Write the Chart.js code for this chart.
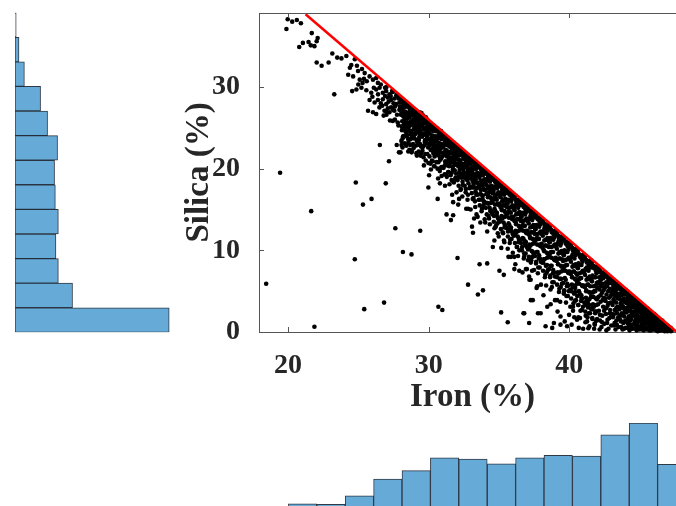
<!DOCTYPE html>
<html>
<head>
<meta charset="utf-8">
<script src="https://cdn.jsdelivr.net/npm/chart.js@4.4.1/dist/chart.umd.min.js"></script>
<style>
  html, body { margin: 0; padding: 0; background: #fff; }
  body { width: 676px; height: 506px; overflow: hidden; position: relative; }
  canvas { position: absolute; display: block; }
</style>
</head>
<body>
<canvas id="silicaHist" width="180" height="340" style="left:0;top:0"></canvas>
<canvas id="scatter" width="510" height="420" style="left:180px;top:0"></canvas>
<canvas id="ironHist" width="446" height="110" style="left:250px;top:410px"></canvas>
<script>
// marginal histogram of silica (bins of 3 %, bottom bin first)
const silicaBins = ['0-3', '3-6', '6-9', '9-12', '12-15', '15-18', '18-21', '21-24', '24-27', '27-30', '30-33', '33-36', '36-39'];
const silicaCounts = [772, 288, 217, 205, 217, 202, 198, 213, 163, 128, 47, 20, 6];

// marginal histogram of iron (bins of 2 %)
const ironBins = ['18-20', '20-22', '22-24', '24-26', '26-28', '28-30', '30-32', '32-34', '34-36', '36-38', '38-40', '40-42', '42-44', '44-46', '46-48'];
const ironCounts = [2, 21, 18, 60, 142, 183, 246, 240, 217, 246, 258, 255, 359, 417, 214];

const xTicks = [20, 30, 40];
const yTicks = [0, 10, 20, 30];

// upper limit line (red)
const limitLine = [[21.25, 38.9], [47.63, 0]];

// isolated samples [iron, silica]
const outlierPts = [
  [19.98,38.3],[19.89,37.1],[20.3,38.0],[20.63,38.2],[20.92,37.8],[21.69,36.6],[22.11,36.0],[22.04,35.6],
  [21.46,35.5],[21.06,35.4],[20.8,34.9],[21.62,35.1],[21.88,35.0],[23.15,34.1],[23.5,33.6],[23.8,33.5],
  [24.15,33.8],[22.04,33.0],[22.39,32.6],[22.89,33.0],[23.29,29.1],[19.44,19.5],[21.65,14.8],[18.45,5.9],
  [21.88,0.65],[24.82,18.3],[26.95,18.2],[25.33,15.6],[25.94,16.3],[24.75,8.9],[25.42,2.8],[26.83,3.6],
  [27.63,12.7],[28.17,9.8],[28.78,9.5],[26.53,22.9],[27.18,20.9],[27.73,22.9],[27.89,22.0],[28.8,22.2],
  [28.1,24.7],[28.0,22.0],[30.03,19.2],[29.98,17.7],[30.64,16.3],[30.8,18.2],[31.27,14.4],[31.58,13.7],
  [31.74,14.3],[31.74,15.9],[32.1,15.6],[29.4,12.4],[32.05,9.07],[32.8,15.1],[33.4,14.4],[33.08,12.9],
  [33.15,12.15],[34.02,13.4],[33.62,8.3],[34.16,8.4],[32.8,5.8],[33.5,4.6],[33.86,5.1],[30.69,3.1],
  [30.97,2.7],[34.56,10.4],[35.03,7.5],[35.34,7.0],[35.15,2.4],[35.62,1.2],[36.09,7.7],[36.44,7.5],
  [36.91,7.7],[37.14,6.8],[37.26,3.9],[37.4,3.9],[36.79,2.3],[37.14,1.1],[35.85,9.2],[36.09,9.2],
  [35.62,10.2],[35.38,11.0],[34.91,12.1],[34.68,12.7],[36.79,9.2],[37.07,8.8],[36.91,11.0],[36.44,10.0],
  [36.74,2.3],[37.77,2.3],[38.31,0.7],[38.78,0.5],[39.37,0.9],[37.96,2.3],[38.43,3.1],[38.9,1.1],
  [39.37,1.9],[39.84,0.7],[39.13,3.9],[40.07,3.1],[40.54,1.5],[37.72,5.6],[38.66,5.2],[39.6,4.7],
  [37.49,7.6],[37.25,6.4]
];

// dense band right under the limit line [iron, silica]
const bandPts = [
  [24.75,33.4],[24.4,32.35],[24.28,31.5],[24.63,31.3],[24.98,31.95],[25.26,32.2],[25.45,31.7],[25.1,30.9],
  [25.4,31.0],[25.8,31.3],[26.04,30.9],[26.27,31.1],[26.39,30.5],[24.56,29.5],[24.86,29.7],[25.22,29.9],
  [25.57,29.6],[25.92,29.3],[26.27,29.7],[26.51,29.9],[26.74,29.3],[26.98,29.5],[27.21,29.1],[26.16,28.1],
  [26.39,28.4],[25.69,27.1],[26.04,26.9],[26.27,26.7],[26.74,28.5],[27.09,28.7],[27.33,28.4],[27.56,28.6],
  [26.98,27.9],[27.33,27.5],[27.68,27.9],[27.92,28.1],[26.86,27.1],[27.21,26.9],[27.56,27.1],[27.92,27.2],
  [27.0,30.0],[27.4,29.5],[27.7,29.0],[27.5,28.0],[27.85,28.6],[26.6,30.3],[26.9,29.9],[27.15,28.2],
  [27.45,27.2],[27.75,26.6],[27.95,27.6],[26.5,27.5],[27.0,26.6],[27.6,26.0],[27.25,25.9],[27.85,25.3],
  [27.1,27.4],[26.8,26.5],[27.45,29.4],[27.8,28.9],[27.45,25.85],[27.8,25.65],
  [24.5,32.7],[24.9,32.6],[25.3,30.5],[25.6,30.7],[25.0,30.3],[26.1,29.9],[26.4,29.1],[25.8,28.4],
  [26.6,28.0],[26.0,28.8],[26.9,28.9],[27.3,28.9],[27.6,27.6],[27.0,27.0],[26.7,27.7],
  [28.27,25.65],[28.62,25.4],[28.97,25.65],[29.09,25.0],[28.74,24.6],[28.39,24.6],[28.15,23.7],[28.55,23.6],
  [28.93,23.9],[28.69,22.9],[29.16,23.4],
  [28.02,28.5],[28.05,27.6],[28.08,26.9],[28.1,28.1],[28.12,25.8],[28.15,27.3],[28.18,28.3],[28.2,26.4],
  [28.22,24.9],[28.25,27.8],[28.28,26.0],[28.3,28.1],[28.33,27.0],[28.36,25.3],[28.38,27.6],[28.4,26.6],
  [28.42,24.3],[28.45,27.9],[28.47,26.1],[28.49,25.6],
  [28.52,27.8],[28.54,26.8],[28.57,25.0],[28.6,27.5],[28.62,26.3],[28.65,27.1],[28.68,24.6],[28.7,27.6],
  [28.72,25.8],[28.75,26.9],[28.78,27.3],[28.8,25.4],[28.83,26.5],[28.86,23.9],[28.88,27.2],[28.9,26.0],
  [28.93,24.8],[28.95,26.9],[28.97,25.5],[28.99,27.1],
  [29.02,27.0],[29.04,25.9],[29.07,26.6],[29.1,24.5],[29.12,27.1],[29.15,25.3],[29.18,26.2],[29.2,26.8],
  [29.22,23.6],[29.25,25.7],[29.28,26.7],[29.3,24.9],[29.33,26.3],[29.36,26.9],[29.38,25.1],[29.4,26.0],
  [29.43,24.2],[29.45,26.5],[29.47,25.5],[29.49,26.8],
  [29.52,26.4],[29.54,25.2],[29.57,26.0],[29.6,24.1],[29.62,26.5],[29.65,25.6],[29.68,24.8],[29.7,26.2],
  [29.72,23.3],[29.75,25.8],[29.78,25.0],[29.8,26.3],[29.83,24.4],[29.86,25.5],[29.88,26.0],[29.9,23.9],
  [29.93,25.2],[29.95,25.9],[29.97,24.6],[29.99,25.6],
  [30.02,25.7],[30.04,24.3],[30.07,25.3],[30.1,22.9],[30.12,25.6],[30.15,24.8],[30.18,23.7],[30.2,25.4],
  [30.22,24.1],[30.25,25.0],[30.28,22.2],[30.3,24.6],[30.33,25.3],[30.36,23.4],[30.38,24.9],[30.4,24.0],
  [30.43,25.0],[30.45,21.6],[30.47,23.8],[30.49,24.7],
  [30.52,25.0],[30.54,23.6],[30.57,24.6],[30.6,22.8],[30.62,24.9],[30.65,24.0],[30.68,21.9],[30.7,24.5],
  [30.72,23.2],[30.75,24.7],[30.78,23.8],[30.8,22.5],[30.83,24.3],[30.86,23.0],[30.88,24.6],[30.9,21.3],
  [30.93,23.6],[30.95,24.2],[30.97,22.6],[30.99,24.0],
  [31.02,24.2],[31.04,22.7],[31.07,23.7],[31.1,21.8],[31.12,24.0],[31.15,23.2],[31.18,20.9],[31.2,23.9],
  [31.22,22.3],[31.25,23.5],[31.28,21.5],[31.3,23.8],[31.33,22.9],[31.36,20.4],[31.38,23.3],[31.4,22.1],
  [31.43,23.6],[31.45,21.2],[31.47,22.7],[31.49,23.4],
  [31.52,23.5],[31.54,22.0],[31.57,23.1],[31.6,20.8],[31.62,23.3],[31.65,22.5],[31.68,21.4],[31.7,23.0],
  [31.72,19.9],[31.75,22.7],[31.78,21.8],[31.8,23.1],[31.83,20.5],[31.86,22.3],[31.88,22.8],[31.9,21.1],
  [31.93,22.6],[31.95,19.4],[31.97,22.0],[31.99,22.7],
  [32.02,22.8],[32.04,21.4],[32.07,22.4],[32.1,20.3],[32.12,22.6],[32.15,21.7],[32.18,19.6],[32.2,22.3],
  [32.22,21.0],[32.25,22.1],[32.28,20.7],[32.3,22.4],[32.33,18.9],[32.36,21.6],[32.38,22.0],[32.4,20.1],
  [32.43,21.8],[32.45,19.3],[32.47,21.2],[32.49,22.0],
  [32.52,22.0],[32.54,20.6],[32.57,21.6],[32.6,19.5],[32.62,21.9],[32.65,21.0],[32.68,18.7],[32.7,21.5],
  [32.72,20.2],[32.75,21.4],[32.78,19.9],[32.8,21.6],[32.83,18.2],[32.86,20.8],[32.88,21.2],[32.9,19.2],
  [32.93,20.9],[32.95,17.8],[32.97,20.5],[32.99,21.3],
  [33.02,21.3],[33.04,19.8],[33.07,20.9],[33.1,18.6],[33.12,21.1],[33.15,20.2],[33.18,17.9],[33.2,20.8],
  [33.22,19.3],[33.25,20.6],[33.28,18.9],[33.3,20.8],[33.33,17.2],[33.36,20.0],[33.38,20.4],[33.4,18.3],
  [33.43,20.1],[33.45,19.5],[33.47,16.8],[33.49,20.5],
  [33.52,20.5],[33.54,19.1],[33.57,20.2],[33.6,17.8],[33.62,20.4],[33.65,19.4],[33.68,16.9],[33.7,20.0],
  [33.72,18.5],[33.75,19.8],[33.78,18.1],[33.8,20.0],[33.83,16.3],[33.86,19.2],[33.88,19.7],[33.9,17.5],
  [33.93,19.4],[33.95,18.7],[33.97,15.9],[33.99,19.8],
  [34.02,19.8],[34.04,18.3],[34.07,19.4],[34.1,16.9],[34.12,19.6],[34.15,18.6],[34.18,15.8],[34.2,19.3],
  [34.22,17.6],[34.25,19.0],[34.28,17.1],[34.3,19.2],[34.33,15.2],[34.36,18.4],[34.38,18.9],[34.4,16.5],
  [34.43,18.6],[34.45,17.9],[34.47,14.6],[34.49,19.0],
  [34.52,19.1],[34.54,17.5],[34.57,18.7],[34.6,16.2],[34.62,18.9],[34.65,17.8],[34.68,15.1],[34.7,18.5],
  [34.72,16.8],[34.75,18.3],[34.78,16.4],[34.8,18.5],[34.83,14.3],[34.86,17.6],[34.88,18.1],[34.9,15.7],
  [34.93,17.8],[34.95,17.1],[34.97,13.8],[34.99,18.3],
  [35.02,18.3],[35.04,16.7],[35.07,17.9],[35.1,15.3],[35.12,18.1],[35.15,17.0],[35.18,14.2],[35.2,17.8],
  [35.22,16.0],[35.25,17.5],[35.28,15.5],[35.3,17.7],[35.33,13.4],[35.36,16.8],[35.38,17.3],[35.4,14.8],
  [35.43,17.0],[35.45,16.3],[35.47,12.9],[35.49,17.6],
  [35.52,17.6],[35.54,15.9],[35.57,17.2],[35.6,14.5],[35.62,17.4],[35.65,16.2],[35.68,13.3],[35.7,17.0],
  [35.72,15.2],[35.75,16.8],[35.78,14.7],[35.8,17.0],[35.83,12.6],[35.86,16.0],[35.88,16.6],[35.9,13.9],
  [35.93,16.3],[35.95,15.5],[35.97,12.0],[35.99,16.9],
  [36.02,16.8],[36.04,15.1],[36.07,16.4],[36.1,13.6],[36.12,16.6],[36.15,15.4],[36.18,12.4],[36.2,16.2],
  [36.22,14.4],[36.25,16.0],[36.28,13.8],[36.3,16.2],[36.33,11.7],[36.36,15.2],[36.38,15.8],[36.4,13.0],
  [36.43,15.5],[36.45,14.7],[36.47,11.2],[36.49,16.1],
  [36.52,16.1],[36.54,14.3],[36.57,15.7],[36.6,12.8],[36.62,15.9],[36.65,14.6],[36.68,11.5],[36.7,15.5],
  [36.72,13.6],[36.75,15.3],[36.78,13.0],[36.8,15.5],[36.83,10.8],[36.86,14.4],[36.88,15.0],[36.9,12.2],
  [36.93,14.7],[36.95,13.9],[36.97,10.4],[36.99,15.4],
  [37.02,15.4],[37.04,13.6],[37.07,15.0],[37.1,12.0],[37.12,15.2],[37.15,13.9],[37.18,10.7],[37.2,14.8],
  [37.22,12.8],[37.25,14.6],[37.28,12.2],[37.3,14.8],[37.33,9.9],[37.36,13.7],[37.38,14.3],[37.4,11.4],
  [37.43,14.0],[37.45,13.1],[37.47,9.5],[37.49,14.6],
  [37.52,14.6],[37.54,12.8],[37.57,14.2],[37.6,11.2],[37.62,14.4],[37.65,13.1],[37.68,9.8],[37.7,14.0],
  [37.72,12.0],[37.75,13.8],[37.78,11.4],[37.8,14.0],[37.83,9.0],[37.86,12.9],[37.88,13.5],[37.9,10.6],
  [37.93,13.2],[37.95,12.3],[37.97,8.6],[37.99,13.9],
  [38.02,13.9],[38.04,12.0],[38.07,13.5],[38.1,10.3],[38.12,13.7],[38.15,12.3],[38.18,8.9],[38.2,13.3],
  [38.22,11.2],[38.25,13.0],[38.28,10.6],[38.3,13.2],[38.33,8.1],[38.36,12.1],[38.38,12.7],[38.4,9.7],
  [38.43,12.4],[38.45,11.5],[38.47,7.6],[38.49,13.1],
  [38.52,13.1],[38.54,11.2],[38.57,12.7],[38.6,9.5],[38.62,12.9],[38.65,11.5],[38.68,8.1],[38.7,12.5],
  [38.72,10.4],[38.75,12.2],[38.78,9.8],[38.8,12.4],[38.83,7.2],[38.86,11.3],[38.88,11.9],[38.9,8.9],
  [38.93,11.6],[38.95,10.7],[38.97,6.8],[38.99,12.4],
  [39.02,12.4],[39.04,10.5],[39.07,12.0],[39.1,8.7],[39.12,12.2],[39.15,10.8],[39.18,7.3],[39.2,11.8],
  [39.22,9.6],[39.25,11.5],[39.28,9.0],[39.3,11.7],[39.33,6.5],[39.36,10.6],[39.38,11.2],[39.4,8.1],
  [39.43,10.9],[39.45,9.9],[39.47,5.9],[39.49,11.7],
  [39.52,11.7],[39.54,9.7],[39.57,11.3],[39.6,7.9],[39.62,11.5],[39.65,10.0],[39.68,6.6],[39.7,11.1],
  [39.72,8.8],[39.75,10.8],[39.78,8.2],[39.8,11.0],[39.83,5.6],[39.86,9.8],[39.88,10.5],[39.9,7.3],
  [39.93,10.1],[39.95,9.1],[39.97,5.0],[39.99,10.9],
  [40.02,10.9],[40.04,8.9],[40.07,10.5],[40.1,7.1],[40.12,10.7],[40.15,9.2],[40.18,5.8],[40.2,10.3],
  [40.22,8.0],[40.25,10.0],[40.28,7.4],[40.3,10.2],[40.33,4.7],[40.36,9.0],[40.38,9.7],[40.4,6.5],
  [40.43,9.4],[40.45,8.3],[40.47,3.9],[40.49,10.2],[40.26,2.6],[40.41,5.4],
  [40.52,10.2],[40.54,8.1],[40.57,9.8],[40.6,6.3],[40.62,10.0],[40.65,8.4],[40.68,5.0],[40.7,9.5],
  [40.72,7.2],[40.75,9.2],[40.78,6.6],[40.8,9.4],[40.83,3.8],[40.86,8.2],[40.88,8.9],[40.9,5.7],
  [40.93,8.6],[40.95,7.5],[40.97,3.1],[40.99,9.4],[40.64,1.8],[40.85,4.5],
  [41.02,9.5],[41.04,7.4],[41.07,9.1],[41.1,5.5],[41.12,9.3],[41.15,7.7],[41.18,4.2],[41.2,8.8],
  [41.22,6.4],[41.25,8.5],[41.28,5.8],[41.3,8.7],[41.33,3.0],[41.36,7.5],[41.38,8.2],[41.4,4.9],
  [41.43,7.9],[41.45,6.8],[41.47,2.3],[41.49,8.7],[41.14,1.2],[41.31,3.6],[41.42,0.7],
  [41.52,8.8],[41.54,6.6],[41.57,8.4],[41.6,4.8],[41.62,8.6],[41.65,6.9],[41.68,3.4],[41.7,8.1],
  [41.72,5.6],[41.75,7.8],[41.78,5.0],[41.8,8.0],[41.83,2.3],[41.86,6.7],[41.88,7.5],[41.9,4.1],
  [41.93,7.2],[41.95,6.0],[41.97,1.6],[41.99,8.0],[41.63,2.8],[41.81,0.9],[41.92,3.3],
  [42.02,8.0],[42.03,6.1],[42.05,7.4],[42.07,4.3],[42.09,7.9],[42.1,2.6],[42.12,6.7],[42.14,5.2],
  [42.16,7.6],[42.18,1.4],[42.2,6.3],[42.22,3.7],[42.24,7.3],[42.26,5.6],[42.28,0.6],[42.3,6.9],
  [42.32,4.8],[42.34,2.0],[42.36,7.2],[42.38,5.9],[42.4,3.1],[42.42,6.6],[42.44,4.2],[42.46,7.3],
  [42.48,1.0],[42.49,5.4],
  [42.52,7.3],[42.53,5.5],[42.55,6.8],[42.57,3.8],[42.59,7.1],[42.6,2.2],[42.62,6.1],[42.64,4.6],
  [42.66,6.9],[42.68,1.1],[42.7,5.8],[42.72,3.2],[42.74,6.6],[42.76,5.0],[42.78,0.4],[42.8,6.3],
  [42.82,4.2],[42.84,1.7],[42.86,6.5],[42.88,5.3],[42.9,2.7],[42.92,6.0],[42.94,3.6],[42.96,6.6],
  [42.98,0.8],[42.99,4.8],
  [43.02,6.5],[43.03,4.9],[43.05,6.1],[43.07,3.3],[43.09,6.4],[43.1,1.8],[43.12,5.4],[43.14,4.0],
  [43.16,6.2],[43.18,0.8],[43.2,5.1],[43.22,2.7],[43.24,5.9],[43.26,4.4],[43.28,0.3],[43.3,5.6],
  [43.32,3.6],[43.34,1.4],[43.36,5.8],[43.38,4.7],[43.4,2.3],[43.42,5.3],[43.44,3.1],[43.46,5.9],
  [43.48,0.6],[43.49,4.2],[43.15,2.1],[43.35,3.0],
  [43.52,5.8],[43.53,4.3],[43.55,5.4],[43.57,2.8],[43.59,5.7],[43.6,1.5],[43.62,4.7],[43.64,3.5],
  [43.66,5.5],[43.68,0.6],[43.7,4.5],[43.72,2.3],[43.74,5.2],[43.76,3.9],[43.78,0.3],[43.8,4.9],
  [43.82,3.1],[43.84,1.1],[43.86,5.1],[43.88,4.1],[43.9,1.9],[43.92,4.6],[43.94,2.6],[43.96,5.1],
  [43.98,0.5],[43.99,3.6],[43.65,2.0],[43.85,2.9],
  [44.02,5.1],[44.03,3.7],[44.05,4.7],[44.07,2.4],[44.09,5.0],[44.1,1.2],[44.12,4.1],[44.14,3.0],
  [44.16,4.8],[44.18,0.5],[44.2,3.9],[44.22,1.9],[44.24,4.5],[44.26,3.3],[44.28,0.2],[44.3,4.2],
  [44.32,2.6],[44.34,0.9],[44.36,4.4],[44.38,3.5],[44.4,1.6],[44.42,3.9],[44.44,2.2],[44.46,4.4],
  [44.48,0.4],[44.49,3.0],[44.15,1.6],[44.35,2.0],[44.25,0.9],
  [44.52,4.3],[44.53,3.1],[44.55,4.0],[44.57,2.0],[44.59,4.2],[44.6,1.0],[44.62,3.4],[44.64,2.5],
  [44.66,4.0],[44.68,0.4],[44.7,3.2],[44.72,1.6],[44.74,3.8],[44.76,2.7],[44.78,0.2],[44.8,3.5],
  [44.82,2.1],[44.84,0.7],[44.86,3.7],[44.88,2.9],[44.9,1.3],[44.92,3.2],[44.94,1.8],[44.96,3.6],
  [44.98,0.3],[44.99,2.5],[44.65,1.3],[44.85,1.9],[44.75,0.8],
  [45.02,3.6],[45.03,2.5],[45.05,3.3],[45.07,1.6],[45.09,3.5],[45.1,0.8],[45.12,2.8],[45.14,2.0],
  [45.16,3.3],[45.18,0.3],[45.2,2.6],[45.22,1.3],[45.24,3.1],[45.26,2.2],[45.28,0.2],[45.3,2.9],
  [45.32,1.7],[45.34,0.6],[45.36,3.0],[45.38,2.3],[45.4,1.0],[45.42,2.6],[45.44,1.5],[45.46,2.9],
  [45.48,0.3],[45.49,2.0],[45.15,1.1],[45.35,1.4],[45.25,0.7],
  [45.52,2.9],[45.53,2.0],[45.55,2.6],[45.57,1.2],[45.59,2.8],[45.6,0.6],[45.62,2.2],[45.64,1.6],
  [45.66,2.6],[45.68,0.2],[45.7,2.0],[45.72,1.0],[45.74,2.4],[45.76,1.7],[45.78,0.2],[45.8,2.3],
  [45.82,1.3],[45.84,0.5],[45.86,2.3],[45.88,1.8],[45.9,0.8],[45.92,2.0],[45.94,1.1],[45.96,2.2],
  [45.98,0.3],[45.99,1.5],[45.65,1.0],[45.85,1.0],[45.75,0.5],
  [46.02,2.2],[46.03,1.5],[46.05,1.9],[46.07,0.9],[46.09,2.1],[46.1,0.4],[46.12,1.6],[46.14,1.2],
  [46.16,1.9],[46.18,0.2],[46.2,1.4],[46.22,0.7],[46.24,1.7],[46.26,1.2],[46.28,0.1],[46.3,1.6],
  [46.32,0.9],[46.34,0.4],[46.36,1.6],[46.38,1.2],[46.4,0.6],[46.42,1.3],[46.44,0.8],[46.46,1.5],
  [46.48,0.2],[46.49,1.0],[46.15,0.7],[46.35,0.8],
  [46.52,1.4],[46.53,1.0],[46.55,1.2],[46.57,0.6],[46.59,1.4],[46.6,0.3],[46.62,1.0],[46.64,0.8],
  [46.66,1.2],[46.68,0.2],[46.7,0.9],[46.72,0.5],[46.74,1.0],[46.76,0.7],[46.78,0.1],[46.8,0.9],
  [46.82,0.5],[46.84,0.3],[46.86,0.9],[46.88,0.6],[46.9,0.3],[46.92,0.7],[46.94,0.4],[46.96,0.8],
  [46.98,0.2],[46.99,0.5],
  [47.02,0.7],[47.05,0.4],[47.08,0.6],[47.1,0.2],[47.13,0.5],[47.16,0.3],[47.19,0.5],[47.22,0.1],
  [47.25,0.4],[47.28,0.2]
];

// lower, looser part of the band [iron, silica]
const deepBandPts = [
  [28.06,23.4],[28.14,22.6],[28.21,24.0],[28.29,23.1],[28.34,24.6],[28.41,22.8],[28.46,23.9],[28.11,25.1],[28.37,26.2],[28.26,25.4],
  [28.56,23.2],[28.63,22.3],[28.71,23.6],[28.79,22.0],[28.84,24.3],[28.91,22.9],[28.96,23.7],[28.61,25.6],[28.87,25.9],[28.74,24.2],
  [29.06,22.8],[29.13,21.9],[29.21,23.3],[29.29,22.1],[29.34,23.9],[29.41,21.6],[29.46,22.7],[29.11,24.9],[29.37,24.4],[29.26,23.0],
  [29.56,22.2],[29.63,21.4],[29.71,22.9],[29.79,21.0],[29.84,23.2],[29.91,21.8],[29.96,22.6],[29.61,24.3],[29.87,24.0],[29.74,23.5],
  [30.06,21.5],[30.13,20.6],[30.21,22.3],[30.29,20.9],[30.34,21.9],[30.41,20.3],[30.46,22.4],[30.11,23.5],[30.37,23.0],[30.26,23.2],
  [30.56,20.8],[30.63,20.0],[30.71,21.6],[30.79,19.7],[30.84,21.1],[30.91,20.2],[30.96,21.5],[30.61,22.4],[30.87,22.0],[30.74,22.1],
  [31.06,20.1],[31.13,19.3],[31.21,20.8],[31.29,19.0],[31.34,21.7],[31.41,19.6],[31.46,20.3],[31.11,22.9],[31.37,21.9],[31.24,21.6],
  [31.56,19.2],[31.63,18.6],[31.71,20.2],[31.79,18.3],[31.84,21.4],[31.91,18.9],[31.96,20.6],[31.61,21.9],[31.87,21.7],[31.74,20.9],
  [32.06,18.6],[32.13,17.9],[32.21,19.9],[32.29,17.5],[32.34,20.4],[32.41,18.4],[32.46,19.9],[32.11,21.1],[32.37,20.6],[32.24,19.4],
  [32.56,17.9],[32.63,17.1],[32.71,19.1],[32.79,16.8],[32.84,19.6],[32.91,17.6],[32.96,19.0],[32.61,20.3],[32.87,20.0],[32.74,18.6],
  [33.06,17.0],[33.13,16.3],[33.21,18.2],[33.29,16.0],[33.34,18.7],[33.41,16.9],[33.46,18.3],[33.11,19.6],[33.37,19.2],[33.24,17.7],
  [33.56,16.2],[33.63,15.5],[33.71,17.4],[33.79,15.1],[33.84,17.9],[33.91,16.0],[33.96,17.4],[33.61,18.9],[33.87,18.4],[33.74,16.8],
  [34.06,15.2],[34.13,14.4],[34.21,16.5],[34.29,13.9],[34.34,17.1],[34.41,14.9],[34.46,16.3],[34.11,18.0],[34.37,17.6],[34.24,15.7],
  [34.56,14.4],[34.63,13.5],[34.71,15.6],[34.79,13.0],[34.84,16.2],[34.91,14.0],[34.96,15.6],[34.61,17.3],[34.87,16.9],[34.74,14.8],
  [35.06,13.5],[35.13,12.6],[35.21,14.9],[35.29,12.1],[35.34,15.5],[35.41,13.1],[35.46,14.6],[35.11,16.5],[35.37,16.1],[35.24,13.9],
  [35.56,12.7],[35.63,11.7],[35.71,14.0],[35.79,11.3],[35.84,14.6],[35.91,12.3],[35.96,13.8],[35.61,15.7],[35.87,15.3],[35.74,13.1],
  [36.06,11.8],[36.13,10.9],[36.21,13.2],[36.29,10.4],[36.34,13.8],[36.41,11.4],[36.46,12.9],[36.11,14.9],[36.37,14.5],[36.24,12.2],
  [36.56,10.9],[36.63,10.0],[36.71,12.4],[36.79,9.6],[36.84,13.0],[36.91,10.6],[36.96,12.1],[36.61,14.1],[36.87,13.7],[36.74,11.4],
  [37.06,10.1],[37.13,9.2],[37.21,11.5],[37.29,8.8],[37.34,12.2],[37.41,9.8],[37.46,11.3],[37.11,13.3],[37.37,12.9],[37.24,10.6],
  [37.56,9.3],[37.63,8.4],[37.71,10.7],[37.79,7.9],[37.84,11.4],[37.91,9.0],[37.96,10.5],[37.61,12.6],[37.87,12.1],[37.74,9.8],
  [38.06,8.5],[38.13,7.5],[38.21,9.9],[38.29,7.0],[38.34,10.6],[38.41,8.2],[38.46,9.6],[38.11,11.8],[38.37,11.3],[38.24,8.9],
  [38.56,7.7],[38.63,6.7],[38.71,9.1],[38.79,6.1],[38.84,9.8],[38.91,7.3],[38.96,8.8],[38.61,11.0],[38.87,10.5],[38.74,8.1],
  [39.06,6.8],[39.13,5.8],[39.21,8.3],[39.29,5.3],[39.34,9.0],[39.41,6.5],[39.46,8.0],[39.11,10.2],[39.37,9.7],[39.24,7.2],
  [39.56,6.0],[39.63,5.0],[39.71,7.5],[39.79,4.4],[39.84,8.2],[39.91,5.7],[39.96,7.2],[39.61,9.4],[39.87,8.9],[39.74,6.4],
  [40.06,5.2],[40.13,4.1],[40.21,6.7],[40.29,3.5],[40.34,7.4],[40.41,4.9],[40.46,6.4],[40.11,8.6],[40.37,8.1],[40.24,5.5],
  [40.56,4.4],[40.63,3.3],[40.71,5.9],[40.79,2.6],[40.84,6.6],[40.91,4.1],[40.96,5.6],[40.61,7.8],[40.87,7.3],[40.74,4.7],
  [41.06,3.6],[41.13,2.5],[41.21,5.1],[41.29,1.8],[41.34,5.8],[41.41,3.3],[41.46,4.8],[41.11,7.0],[41.37,6.5],[41.24,3.9],
  [41.56,2.8],[41.63,1.7],[41.71,4.3],[41.79,1.0],[41.84,5.0],[41.91,2.5],[41.96,4.0],[41.61,6.2],[41.87,5.7],[41.74,3.1]
];

// scattered points filling the band irregularly [iron, silica]
const fillPts = [
  [28.03,26.6],[28.09,25.2],[28.13,27.5],[28.17,23.9],[28.24,25.7],[28.31,27.6],[28.35,25.1],[28.39,23.0],[28.44,26.3],[28.48,24.1],[28.27,26.9],[28.07,22.9],
  [28.53,25.2],[28.58,26.7],[28.64,23.6],[28.69,25.3],[28.73,27.2],[28.81,24.0],[28.85,25.8],[28.92,22.5],[28.98,25.1],[28.67,24.6],[28.89,23.0],[28.55,22.1],
  [29.03,24.2],[29.08,26.3],[29.14,24.6],[29.19,22.9],[29.24,25.3],[29.31,23.5],[29.35,26.4],[29.42,24.6],[29.48,21.9],[29.16,21.6],[29.39,23.0],[29.27,24.4],
  [29.53,23.9],[29.59,25.1],[29.64,22.8],[29.69,25.6],[29.76,21.8],[29.81,24.2],[29.85,23.1],[29.92,24.8],[29.98,20.7],[29.66,20.4],[29.89,23.6],[29.57,22.6],
  [30.03,23.0],[30.08,24.9],[30.14,22.3],[30.19,23.7],[30.23,21.0],[30.31,24.0],[30.35,22.8],[30.42,21.5],[30.48,24.6],[30.16,19.9],[30.39,20.3],[30.27,22.4],
  [30.53,21.9],[30.58,23.3],[30.64,22.5],[30.69,20.8],[30.76,23.8],[30.81,21.2],[30.85,22.5],[30.92,19.1],[30.98,22.9],[30.67,18.8],[30.89,20.1],[30.56,22.4],
  [31.03,21.9],[31.09,23.0],[31.14,20.4],[31.19,22.2],[31.26,19.3],[31.31,23.1],[31.35,20.9],[31.42,21.5],[31.48,18.1],[31.16,17.9],[31.39,19.6],[31.23,20.8],
  [31.53,20.7],[31.58,22.0],[31.64,19.5],[31.69,21.2],[31.76,18.4],[31.81,22.1],[31.85,19.8],[31.92,20.5],[31.98,17.1],[31.67,16.8],[31.89,18.7],[31.55,23.1],
  [32.03,20.5],[32.08,21.6],[32.14,19.0],[32.19,20.7],[32.26,17.4],[32.31,21.7],[32.35,19.3],[32.42,18.0],[32.48,19.5],[32.16,16.3],[32.39,16.6],[32.23,21.0],
  [32.53,18.9],[32.58,20.3],[32.64,17.5],[32.69,19.4],[32.76,16.2],[32.81,20.6],[32.85,18.8],[32.92,17.7],[32.98,15.0],[32.67,15.1],[32.89,19.5],[32.55,21.5],
  [33.03,19.1],[33.09,19.9],[33.14,17.7],[33.19,16.4],[33.26,19.2],[33.31,15.3],[33.35,20.0],[33.42,17.6],[33.48,14.1],[33.16,18.4],[33.39,16.8],[33.23,13.9],
  [33.53,17.7],[33.58,19.1],[33.64,16.2],[33.69,18.0],[33.76,14.8],[33.81,19.5],[33.85,16.7],[33.92,18.1],[33.98,13.8],[33.67,13.4],[33.89,15.5],[33.55,18.0],
  [34.03,17.4],[34.09,18.7],[34.14,15.8],[34.19,16.8],[34.26,14.2],[34.31,17.8],[34.35,13.2],[34.42,15.8],[34.48,17.2],[34.16,12.3],[34.39,14.8],[34.23,19.0],
  [34.53,15.9],[34.58,17.3],[34.64,14.2],[34.69,16.5],[34.76,12.9],[34.81,17.8],[34.85,14.6],[34.92,15.6],[34.98,11.7],[34.67,11.2],[34.89,13.3],[34.55,17.0],
  [35.03,15.7],[35.09,17.0],[35.14,13.9],[35.19,15.0],[35.26,12.2],[35.31,16.2],[35.35,11.2],[35.42,14.1],[35.48,15.5],[35.16,10.3],[35.39,12.8],[35.23,17.4],
  [35.53,14.2],[35.58,15.8],[35.64,12.3],[35.69,14.8],[35.76,10.9],[35.81,16.1],[35.85,12.8],[35.92,14.1],[35.98,9.7],[35.67,9.2],[35.89,11.4],[35.55,15.3],
  [36.03,14.1],[36.09,15.4],[36.14,12.0],[36.19,13.4],[36.26,10.4],[36.31,14.5],[36.35,9.3],[36.42,12.4],[36.48,13.8],[36.16,8.3],[36.39,11.0],[36.23,15.8],
  [36.53,12.6],[36.58,14.2],[36.64,10.4],[36.69,13.1],[36.76,9.0],[36.81,14.5],[36.85,11.1],[36.92,12.4],[36.98,7.7],[36.67,7.3],[36.89,9.6],[36.55,13.6],
  [37.03,12.4],[37.09,13.8],[37.14,10.3],[37.19,11.7],[37.26,8.5],[37.31,12.9],[37.35,7.5],[37.42,10.8],[37.48,12.2],[37.16,6.4],[37.39,9.2],[37.23,14.2],
  [37.53,10.9],[37.58,12.6],[37.64,8.6],[37.69,11.5],[37.76,7.2],[37.81,13.0],[37.85,9.4],[37.92,10.7],[37.98,5.8],[37.67,5.4],[37.89,7.9],[37.55,12.0],
  [38.03,10.8],[38.09,12.3],[38.14,8.5],[38.19,10.0],[38.26,6.7],[38.31,11.3],[38.35,5.7],[38.42,9.1],[38.48,10.5],[38.16,4.5],[38.39,7.3],[38.23,12.7],
  [38.53,9.2],[38.58,11.0],[38.64,6.9],[38.69,9.8],[38.76,5.5],[38.81,11.4],[38.85,7.6],[38.92,9.0],[38.98,3.9],[38.67,3.4],[38.89,6.1],[38.55,10.4],
  [39.03,9.1],[39.09,10.7],[39.14,6.7],[39.19,8.3],[39.26,4.9],[39.31,9.8],[39.35,3.7],[39.42,7.4],[39.48,8.9],[39.16,2.5],[39.39,5.5],[39.23,11.1],
  [39.53,7.5],[39.58,9.5],[39.64,5.1],[39.69,8.1],[39.76,3.6],[39.81,9.8],[39.85,5.9],[39.92,7.4],[39.98,2.1],[39.67,1.3],[39.89,4.4],[39.55,8.7],
  [40.03,7.4],[40.09,9.1],[40.14,5.0],[40.19,6.7],[40.26,3.1],[40.31,8.2],[40.35,1.8],[40.42,5.7],[40.48,7.2],[40.16,0.9],[40.39,3.8],[40.23,9.5],
  [40.53,5.9],[40.58,7.9],[40.64,3.3],[40.69,6.5],[40.76,1.7],[40.81,8.2],[40.85,4.2],[40.92,5.7],[40.98,0.4],[40.67,0.5],[40.89,2.7],[40.55,7.0],
  [41.03,5.7],[41.09,7.5],[41.14,3.3],[41.19,5.0],[41.26,1.3],[41.31,6.6],[41.35,0.45],[41.42,4.0],[41.48,5.6],[41.16,2.0],[41.39,2.3],[41.23,7.9],
  [41.53,4.3],[41.58,6.3],[41.64,1.6],[41.69,4.9],[41.76,0.4],[41.81,6.7],[41.85,2.5],[41.92,4.1],[41.98,5.4],[41.67,3.2],[41.89,1.35],[41.55,7.9],
  [42.04,3.4],[42.11,5.9],[42.17,2.1],[42.21,4.5],[42.27,6.5],[42.33,1.2],[42.37,3.9],[42.43,5.1],[42.47,2.6],[42.15,0.3],
  [42.54,4.1],[42.61,2.9],[42.67,5.6],[42.71,1.5],[42.77,3.5],[42.83,6.0],[42.87,2.3],[42.93,4.4],[42.97,1.9],[42.63,0.2],
  [43.04,2.2],[43.11,4.6],[43.17,3.8],[43.21,1.1],[43.27,5.0],[43.33,2.5],[43.37,0.9],[43.43,4.1],[43.47,1.8],[43.13,5.7],
  [43.54,3.0],[43.61,4.0],[43.67,1.3],[43.71,3.4],[43.77,5.0],[43.83,2.2],[43.87,0.4],[43.93,3.7],[43.97,1.4],[43.63,5.2],
  [44.04,2.9],[44.11,3.5],[44.17,1.0],[44.21,2.6],[44.27,4.2],[44.33,1.4],[44.37,3.1],[44.43,0.6],[44.47,2.4],[44.13,4.5],
  [44.54,2.4],[44.61,3.0],[44.67,0.9],[44.71,2.2],[44.77,3.4],[44.83,1.1],[44.87,2.6],[44.93,0.5],[44.97,1.7],[44.63,3.8],
  [45.04,1.9],[45.11,2.4],[45.17,0.5],[45.21,1.6],[45.27,2.7],[45.33,0.9],[45.37,2.0],[45.43,0.4],[45.47,1.2],[45.13,3.2],
  [45.54,1.4],[45.61,1.8],[45.67,0.4],[45.71,1.3],[45.77,2.1],[45.83,0.7],[45.87,1.5],[45.93,0.3],[45.97,0.9],[45.63,2.4],
  [46.04,1.1],[46.11,1.3],[46.17,0.3],[46.21,0.9],[46.27,1.5],[46.33,0.5],[46.37,1.1],[46.43,0.2],[46.47,0.7],[46.13,1.8],
  [46.54,0.7],[46.61,0.9],[46.67,0.2],[46.73,0.6],[46.79,1.0],[46.85,0.4],[46.91,0.8],[46.97,0.1],[46.63,1.3],[46.7,1.1]
];

const axisColor = '#555555';
const textColor = '#262626';
const barFill = 'rgb(102,170,215)';
const barEdge = 'rgba(25,35,50,0.9)';
const serif = "'Liberation Serif', 'Times New Roman', serif";

const toXY = p => ({ x: p[0], y: p[1] });

// fixed axis sizes so the plot box lines up with the marginal histograms
function pinAxis(size) {
  return function (scale) {
    if (scale.isHorizontal()) scale.height = size; else scale.width = size;
    scale.paddingTop = 0; scale.paddingBottom = 0;
    scale.paddingLeft = 0; scale.paddingRight = 0;
  };
}

// box on top, inward ticks like the original figure
const frameTicks = {
  id: 'frameTicks',
  afterDraw(chart) {
    const { ctx, chartArea: a, scales: { x, y } } = chart;
    ctx.save();
    ctx.strokeStyle = axisColor;
    ctx.lineWidth = 1;
    ctx.beginPath();
    ctx.moveTo(a.left, a.top + 0.5);
    ctx.lineTo(a.right, a.top + 0.5);
    xTicks.forEach(v => {
      const px = Math.round(x.getPixelForValue(v)) + 0.5;
      ctx.moveTo(px, a.bottom); ctx.lineTo(px, a.bottom - 5);
      ctx.moveTo(px, a.top); ctx.lineTo(px, a.top + 5);
    });
    yTicks.forEach(v => {
      const py = Math.round(y.getPixelForValue(v)) + 0.5;
      ctx.moveTo(a.left, py); ctx.lineTo(a.left + 5, py);
    });
    ctx.stroke();
    ctx.restore();
  }
};

new Chart(document.getElementById('scatter'), {
  type: 'scatter',
  data: {
    datasets: [
      {
        type: 'line',
        data: limitLine.map(toXY),
        borderColor: '#ff0000',
        borderWidth: 2.5,
        pointRadius: 0,
        order: 0
      },
      {
        data: bandPts.concat(deepBandPts, fillPts, outlierPts).map(toXY),
        backgroundColor: '#000',
        borderWidth: 0,
        pointRadius: 2.3,
        clip: false,
        order: 1
      }
    ]
  },
  options: {
    responsive: false,
    animation: false,
    layout: { padding: { top: 13, left: 0, right: 0, bottom: 0 } },
    plugins: { legend: { display: false }, tooltip: { enabled: false } },
    scales: {
      x: {
        type: 'linear',
        min: 17.94,
        max: 48.29,
        afterBuildTicks: s => { s.ticks = xTicks.map(v => ({ value: v })); },
        afterFit: pinAxis(88),
        grid: { display: false },
        border: { display: true, color: axisColor, width: 1 },
        ticks: { color: textColor, padding: 9, font: { family: serif, size: 28, weight: 'bold' } },
        title: {
          display: true, text: 'Iron (%)', color: textColor,
          padding: { top: 0, bottom: 3 },
          font: { family: serif, size: 33, weight: 'bold' }
        }
      },
      y: {
        type: 'linear',
        min: 0,
        max: 39.06,
        afterBuildTicks: s => { s.ticks = yTicks.map(v => ({ value: v })); },
        afterFit: pinAxis(79),
        grid: { display: false },
        border: { display: true, color: axisColor, width: 1 },
        ticks: { color: textColor, padding: 11, font: { family: serif, size: 28, weight: 'bold' } },
        title: {
          display: true, text: 'Silica (%)', color: textColor,
          padding: { top: 0, bottom: 0 },
          font: { family: serif, size: 33, weight: 'bold' }
        }
      }
    }
  },
  plugins: [frameTicks]
});

new Chart(document.getElementById('silicaHist'), {
  type: 'bar',
  data: {
    labels: silicaBins,
    datasets: [{
      data: silicaCounts,
      backgroundColor: barFill,
      borderColor: barEdge,
      borderWidth: 1,
      borderSkipped: false,
      barPercentage: 1,
      categoryPercentage: 1
    }]
  },
  options: {
    indexAxis: 'y',
    responsive: false,
    animation: false,
    layout: { padding: { left: 15, top: 12.7, right: 10, bottom: 7.7 } },
    plugins: { legend: { display: false }, tooltip: { enabled: false } },
    scales: {
      x: { display: false, min: 0, max: 776 },
      y: { display: false, reverse: true }
    }
  }
});

new Chart(document.getElementById('ironHist'), {
  type: 'bar',
  data: {
    labels: ironBins,
    datasets: [{
      data: ironCounts,
      backgroundColor: barFill,
      borderColor: barEdge,
      borderWidth: 1,
      borderSkipped: false,
      barPercentage: 1,
      categoryPercentage: 1
    }]
  },
  options: {
    responsive: false,
    animation: false,
    layout: { padding: { left: 10, top: 13, right: 10, bottom: 12 } },
    plugins: { legend: { display: false }, tooltip: { enabled: false } },
    scales: {
      x: { display: false },
      y: { display: false, min: 0, max: 417 }
    }
  }
});
</script>
</body>
</html>
